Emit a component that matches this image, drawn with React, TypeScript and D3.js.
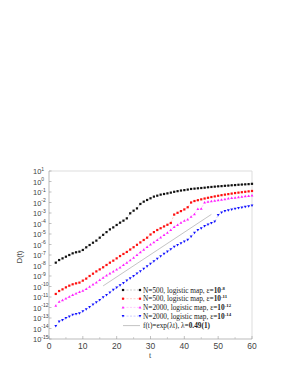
import React from 'react';
import * as d3 from 'd3';

// time steps of the samples
const times = [2, 3, 4, 5, 6, 7, 8, 9, 10, 11, 12, 13, 14, 15, 16, 17, 18, 19, 20, 21, 22, 23, 24, 25, 26, 27, 28, 29, 30, 31, 32, 33, 34, 35, 36, 37, 38, 39, 40, 41, 42, 43, 44, 45, 46, 47, 48, 49, 50, 51, 52, 53, 54, 55, 56, 57, 58, 59, 60];

// log10 D(t) for each run
const n500eps8 = [-7.73, -7.48, -7.32, -7.16, -7.0, -6.84, -6.74, -6.68, -6.52, -6.27, -6.05, -5.83, -5.63, -5.35, -5.08, -4.82, -4.56, -4.37, -4.14, -3.92, -3.73, -3.51, -3.03, -2.78, -2.56, -2.14, -1.92, -1.76, -1.6, -1.44, -1.35, -1.25, -1.19, -1.13, -1.06, -0.98, -0.92, -0.86, -0.82, -0.77, -0.71, -0.68, -0.65, -0.62, -0.59, -0.55, -0.52, -0.49, -0.46, -0.44, -0.41, -0.39, -0.36, -0.34, -0.31, -0.29, -0.27, -0.25, -0.22];
const n500eps11 = [-10.71, -10.43, -10.27, -10.08, -9.92, -9.79, -9.7, -9.63, -9.44, -9.25, -9.0, -8.78, -8.56, -8.37, -8.17, -7.95, -7.73, -7.54, -7.32, -7.1, -6.9, -6.71, -6.48, -6.26, -6.03, -5.8, -5.57, -5.35, -5.05, -4.82, -4.62, -4.45, -4.28, -4.12, -3.95, -3.15, -2.98, -2.82, -2.66, -2.45, -2.0, -1.86, -1.78, -1.7, -1.62, -1.55, -1.48, -1.42, -1.36, -1.3, -1.25, -1.2, -1.15, -1.1, -1.06, -1.02, -0.98, -0.94, -0.9];
const n2000eps12 = [-11.83, -11.44, -11.29, -11.13, -10.97, -10.81, -10.65, -10.52, -10.4, -10.24, -10.02, -9.79, -9.6, -9.38, -9.16, -8.94, -8.75, -8.56, -8.37, -8.17, -7.95, -7.73, -7.5, -7.25, -6.98, -6.72, -6.48, -6.24, -6.0, -5.78, -5.55, -5.32, -5.09, -4.86, -4.6, -4.33, -4.13, -3.93, -3.72, -3.6, -3.35, -3.1, -2.62, -2.58, -1.98, -1.93, -1.87, -1.82, -1.77, -1.72, -1.67, -1.62, -1.57, -1.53, -1.48, -1.44, -1.4, -1.36, -1.32];
const n2000eps14 = [-13.76, -13.35, -13.19, -13.0, -12.87, -12.71, -12.62, -12.56, -12.37, -12.17, -11.95, -11.73, -11.51, -11.29, -11.03, -10.81, -10.59, -10.33, -10.11, -9.89, -9.67, -9.44, -9.22, -9.0, -8.78, -8.56, -8.32, -8.08, -7.84, -7.6, -7.36, -7.12, -6.9, -6.68, -6.45, -6.22, -6.05, -5.9, -5.73, -5.55, -5.25, -4.9, -4.62, -4.45, -4.25, -4.1, -3.97, -3.83, -3.2, -2.95, -2.82, -2.74, -2.67, -2.6, -2.54, -2.48, -2.42, -2.36, -2.3];

// fit f(t) = A exp(lambda t)
const fitLambda = 0.49;
const fitPrefactor = 4.5e-14;
const fitRange = [16, 48];

const xTicks = [0, 10, 20, 30, 40, 50, 60];
const xMinorTicks = [5, 15, 25, 35, 45, 55];
const yExponents = [1, 0, -1, -2, -3, -4, -5, -6, -7, -8, -9, -10, -11, -12, -13, -14, -15];

const seriesList = [
  { label: 'N=500', eps: '-8', values: n500eps8, color: '#111111', line: '#999999', shape: 'square' },
  { label: 'N=500', eps: '-11', values: n500eps11, color: '#ff1010', line: '#ff9999', shape: 'square' },
  { label: 'N=2000', eps: '-12', values: n2000eps12, color: '#ff20ff', line: '#ff99ff', shape: 'up' },
  { label: 'N=2000', eps: '-14', values: n2000eps14, color: '#1010ff', line: '#9999ff', shape: 'down' },
];

const W = 295;
const H = 382;
const left = 49, right = 252, top = 171, bottom = 339;

const Marker = ({ x, y, shape, color }: { x: number; y: number; shape: string; color: string }) => {
  const s = 1.1;
  if (shape === 'up') {
    return <path d={`M${x},${y - s - 0.3}L${x + s + 0.3},${y + s}L${x - s - 0.3},${y + s}Z`} fill={color} />;
  }
  if (shape === 'down') {
    return <path d={`M${x},${y + s + 0.3}L${x + s + 0.3},${y - s}L${x - s - 0.3},${y - s}Z`} fill={color} />;
  }
  return <rect x={x - s} y={y - s} width={2 * s} height={2 * s} fill={color} />;
};

export default function App() {
  const x = d3.scaleLinear().domain([0, 60]).range([left, right]);
  const y = d3.scaleLog().domain([1e-15, 10]).range([bottom, top]);
  const line = d3
    .line<[number, number]>()
    .x((d) => x(d[0]))
    .y((d) => y(d[1]));

  const fitPts: [number, number][] = fitRange.map((t) => [t, fitPrefactor * Math.exp(fitLambda * t)]);

  const legendX = 123;
  const legendY0 = 290;
  const legendStep = 8.7;

  return (
    <svg width={W} height={H} style={{ position: 'absolute', left: 0, top: 0, background: '#fff' }}>
      {/* frame */}
      <line x1={left} x2={right} y1={top} y2={top} stroke="#dddddd" strokeWidth={1} />
      <line x1={right} x2={right} y1={top} y2={bottom} stroke="#dddddd" strokeWidth={1} />
      <line x1={left} x2={left} y1={top} y2={bottom} stroke="#aaaaaa" strokeWidth={0.8} />
      <line x1={left} x2={right} y1={bottom} y2={bottom} stroke="#aaaaaa" strokeWidth={0.8} />

      {/* x ticks */}
      {xTicks.map((t) => (
        <g key={'xt' + t}>
          <line x1={x(t)} x2={x(t)} y1={bottom} y2={bottom - 3} stroke="#999" strokeWidth={0.6} />
          <text x={x(t)} y={bottom + 10} textAnchor="middle" fontFamily="Liberation Sans, Arial, sans-serif" fontSize={8.5} fill="#444">
            {t}
          </text>
        </g>
      ))}
      {xMinorTicks.map((t) => (
        <line key={'xm' + t} x1={x(t)} x2={x(t)} y1={bottom} y2={bottom - 2} stroke="#aaa" strokeWidth={0.5} />
      ))}

      {/* y ticks */}
      {yExponents.map((e) => (
        <g key={'yt' + e}>
          <line x1={left} x2={left + 2.5} y1={y(Math.pow(10, e))} y2={y(Math.pow(10, e))} stroke="#999" strokeWidth={0.6} />
          <text x={33} y={y(Math.pow(10, e)) + 3} fontFamily="Liberation Sans, Arial, sans-serif" fontSize={7.5} fill="#444">
            10
            <tspan dy={-3.5} fontSize={5}>
              {e}
            </tspan>
          </text>
        </g>
      ))}

      {/* axis titles */}
      <text x={150} y={358} textAnchor="middle" fontFamily="Liberation Serif, serif" fontSize={8} fill="#333">
        t
      </text>
      <text
        transform={`translate(22,${(top + bottom) / 2 + 2}) rotate(-90)`}
        textAnchor="middle"
        fontFamily="Liberation Sans, Arial, sans-serif"
        fontSize={7.5}
        fill="#444"
      >
        D(t)
      </text>

      {/* fit line */}
      <path d={line(fitPts) || ''} stroke="#aaaaaa" strokeWidth={0.7} fill="none" />

      {/* series */}
      {seriesList.map((s, si) => {
        const pts: [number, number][] = times.map((t, i) => [t, Math.pow(10, s.values[i])]);
        return (
          <g key={'s' + si}>
            <path d={line(pts) || ''} stroke={s.line} strokeWidth={0.5} strokeDasharray="2,1.5" fill="none" />
            {pts.map((p, i) => (
              <Marker key={i} x={x(p[0])} y={y(p[1])} shape={s.shape} color={s.color} />
            ))}
          </g>
        );
      })}

      {/* legend */}
      {seriesList.map((s, si) => {
        const ly = legendY0 + si * legendStep;
        return (
          <g key={'lg' + si}>
            <line x1={legendX} x2={legendX + 17} y1={ly} y2={ly} stroke={s.line} strokeWidth={0.5} strokeDasharray="2,1.5" />
            <Marker x={legendX} y={ly} shape={s.shape} color={s.color} />
            <Marker x={legendX + 17} y={ly} shape={s.shape} color={s.color} />
            <text x={legendX + 20} y={ly + 2.5} fontFamily="Liberation Serif, Times New Roman, serif" fontSize={7.3} fill="#222">
              {s.label}, logistic map, ε=
              <tspan fontWeight="bold">10</tspan>
              <tspan dy={-3} fontSize={4.8} fontWeight="bold">
                {s.eps}
              </tspan>
            </text>
          </g>
        );
      })}
      <g>
        <line
          x1={legendX}
          x2={legendX + 17}
          y1={legendY0 + 4 * legendStep + 0.8}
          y2={legendY0 + 4 * legendStep + 0.8}
          stroke="#aaaaaa"
          strokeWidth={0.7}
        />
        <text x={legendX + 20} y={legendY0 + 4 * legendStep + 3.3} fontFamily="Liberation Serif, Times New Roman, serif" fontSize={7.3} fill="#222">
          f(t)=exp(λt), λ=<tspan fontWeight="bold">0.49(1)</tspan>
        </text>
      </g>
    </svg>
  );
}
